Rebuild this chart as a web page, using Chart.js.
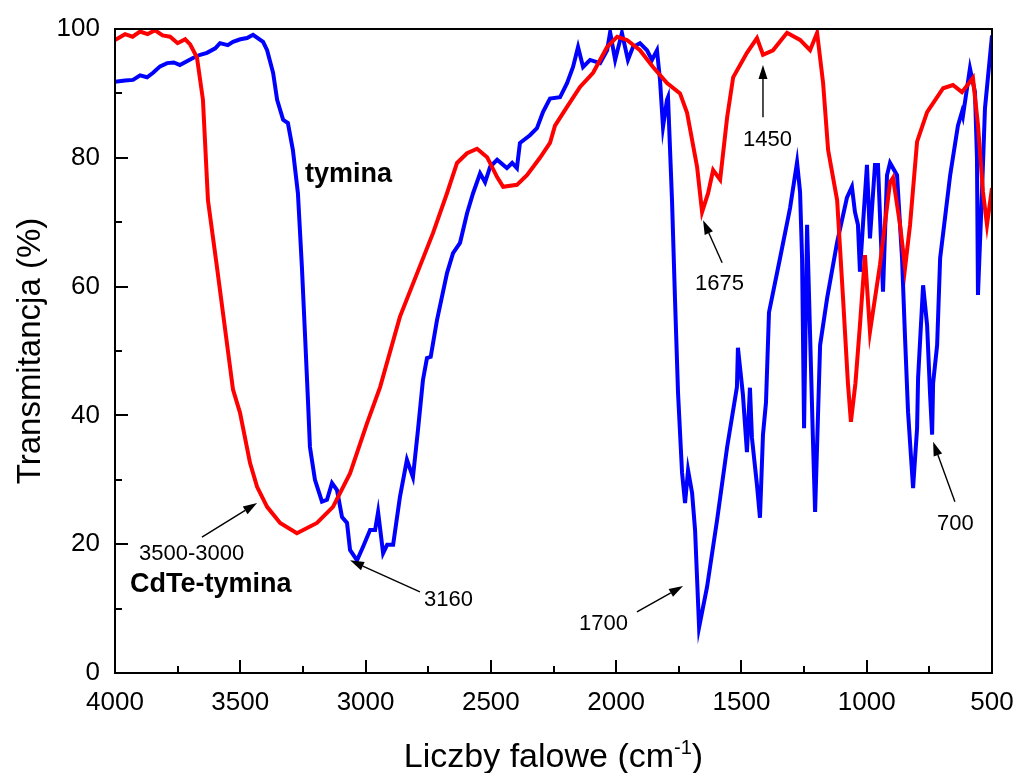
<!DOCTYPE html>
<html>
<head>
<meta charset="utf-8">
<script src="https://cdn.jsdelivr.net/npm/chart.js@4/dist/chart.umd.min.js"></script>
<style>
  body { margin: 0; background: #fff; }
  canvas { display: block; }
</style>
</head>
<body>
<canvas id="ftir" width="1019" height="773"></canvas>
<script>
// Widma FTIR: CdTe-tymina (czerwona) i tymina (niebieska)
const cdteWave = [4000, 3960, 3930, 3900, 3870, 3840, 3810, 3780, 3750, 3720, 3700, 3673, 3649, 3629, 3593, 3529, 3501, 3461, 3433, 3393, 3341, 3274, 3194, 3130, 3062, 2994, 2942, 2863, 2731, 2675, 2635, 2595, 2555, 2515, 2475, 2451, 2396, 2356, 2304, 2264, 2244, 2196, 2144, 2092, 2036, 1996, 1957, 1905, 1853, 1797, 1745, 1717, 1677, 1657, 1633, 1613, 1585, 1557, 1533, 1478, 1438, 1414, 1374, 1318, 1266, 1226, 1198, 1174, 1154, 1118, 1094, 1075, 1063, 1045, 1027, 1007, 987, 947, 907, 895, 867, 847, 827, 799, 759, 695, 656, 620, 576, 556, 536, 520, 500]
const cdteT = [98.3, 99.2, 98.8, 99.6, 99.2, 99.8, 99.0, 98.8, 97.8, 98.4, 97.6, 95.6, 89, 73.4, 63, 44, 40.4, 32.6, 28.9, 25.8, 23.3, 21.7, 23.3, 25.8, 31, 38.8, 44.4, 55.3, 68.3, 74.5, 79.2, 80.7, 81.4, 80.1, 77, 75.5, 75.8, 77.3, 80, 82.3, 85, 87.9, 91, 93.2, 97.2, 98.8, 98.3, 96.7, 94.1, 91.6, 90, 87, 78.6, 71.6, 74.5, 78.1, 76.6, 86.3, 92.5, 96.3, 98.6, 96, 96.7, 99.4, 98.3, 96.7, 99.4, 91.6, 81.2, 73.4, 57.9, 45, 39, 45, 54, 64.9, 53, 63.4, 76.2, 76.9, 69.6, 62.9, 69.6, 82.5, 87.1, 90.8, 91.3, 90.2, 92.4, 85.1, 74.7, 69.6, 75.3]

const thymWave = [4000, 3960, 3928, 3900, 3872, 3848, 3820, 3792, 3765, 3741, 3689, 3660, 3633, 3600, 3581, 3550, 3529, 3500, 3473, 3449, 3409, 3393, 3369, 3353, 3329, 3310, 3290, 3270, 3254, 3242, 3230, 3222, 3202, 3174, 3154, 3134, 3114, 3094, 3074, 3062, 3034, 3010, 2982, 2962, 2950, 2930, 2914, 2890, 2863, 2835, 2811, 2791, 2771, 2755, 2740, 2715, 2675, 2651, 2623, 2595, 2571, 2543, 2523, 2503, 2475, 2436, 2415, 2396, 2384, 2344, 2316, 2292, 2264, 2224, 2196, 2172, 2152, 2132, 2104, 2064, 2036, 2024, 2004, 1977, 1953, 1933, 1905, 1877, 1857, 1837, 1825, 1813, 1797, 1793, 1777, 1765, 1753, 1737, 1725, 1713, 1697, 1685, 1669, 1637, 1597, 1557, 1518, 1514, 1494, 1478, 1466, 1458, 1438, 1426, 1414, 1402, 1390, 1346, 1306, 1278, 1266, 1258, 1250, 1238, 1214, 1206, 1186, 1158, 1118, 1079, 1059, 1047, 1035, 1027, 1015, 999, 987, 967, 955, 935, 919, 907, 879, 859, 847, 835, 815, 799, 795, 775, 759, 747, 739, 735, 719, 707, 667, 636, 620, 616, 588, 568, 560, 556, 540, 528, 500]
const thymT = [91.8, 92.0, 92.1, 92.8, 92.5, 93.2, 94.2, 94.7, 94.8, 94.4, 95.5, 96.0, 96.3, 97.0, 97.8, 97.5, 98.0, 98.4, 98.6, 99.1, 98.0, 96.7, 93.2, 89, 85.9, 85.4, 81.2, 74.5, 63, 52.8, 42.4, 35.1, 30, 26.6, 26.9, 29.5, 28.4, 24.2, 23.3, 19.1, 17.5, 19.6, 22.2, 22.2, 25, 18.6, 19.9, 19.9, 27.3, 33.1, 30.4, 37.7, 45.5, 48.9, 49.1, 54.8, 62.1, 65.2, 66.8, 71.4, 74.5, 77.6, 76.2, 78.6, 79.7, 78.4, 79.2, 78.4, 82.3, 83.5, 84.6, 87.1, 89.2, 89.4, 91.6, 94.1, 97.2, 94.1, 95.2, 94.7, 96.7, 99.5, 95.2, 99.4, 95.2, 97.2, 97.8, 96.7, 95.2, 96.7, 92.1, 84.8, 89, 89.4, 73.4, 57.9, 43.5, 31.1, 26.4, 31.5, 28, 22.2, 7.1, 13.4, 23.8, 35.1, 44.4, 50.5, 43.2, 34.3, 44.3, 36.5, 29.2, 24.1, 37, 42, 56, 64.4, 72.2, 79.3, 74.7, 64.4, 38, 69.6, 35.4, 25, 50.9, 58.2, 66.9, 73.8, 75.5, 71.6, 69.6, 62.3, 69.6, 78.9, 67.5, 78.9, 78.9, 59.2, 77.3, 79.2, 77.3, 64.4, 52, 40.5, 28.7, 38, 45.8, 60.2, 54, 43.2, 37, 45, 50.9, 64.4, 77.3, 85, 87.1, 86.5, 93.9, 90.2, 80, 58.7, 74.7, 87.7, 99]

const xTicks = [4000, 3500, 3000, 2500, 2000, 1500, 1000, 500]
const yTicks = [0, 20, 40, 60, 80, 100]

// opisy pasm: tekst, gdzie stoi (liczba falowa, %T), strzałka od -> do
const noteText = ['tymina', 'CdTe-tymina', '3500-3000', '3160', '1700', '1675', '1450', '700']
const noteAt = [[3242, 76.2], [3940, 12.6], [3904, 17.5], [2767, 10.4], [2148, 6.7], [1685, 59.5], [1494, 81.8], [719, 22.2]]
const noteBold = [true, true, false, false, false, false, false, false]
const arrowFrom = [null, null, [3653, 21.1], [2783, 12.6], [1917, 9.5], [1577, 63.7], [1414, 86.3], [648, 26.6]]
const arrowTo = [null, null, [3433, 26.4], [3062, 17.5], [1733, 13.5], [1653, 70.3], [1414, 94.4], [735, 35.9]]

const FONT = '"Liberation Sans", Arial, sans-serif'

const toPoints = (xs, ys) => xs.map((v, i) => ({ x: v, y: ys[i] }))

function arrow(ctx, x1, y1, x2, y2) {
  const ang = Math.atan2(y2 - y1, x2 - x1)
  const len = 14
  const half = 4.5
  const bx = x2 - len * Math.cos(ang)
  const by = y2 - len * Math.sin(ang)
  ctx.beginPath()
  ctx.moveTo(x1, y1)
  ctx.lineTo(bx, by)
  ctx.stroke()
  ctx.beginPath()
  ctx.moveTo(x2, y2)
  ctx.lineTo(bx + half * Math.sin(ang), by - half * Math.cos(ang))
  ctx.lineTo(bx - half * Math.sin(ang), by + half * Math.cos(ang))
  ctx.closePath()
  ctx.fill()
}

/**
 * Ramka, znaczniki do wewnątrz, opisy pasm i tytuły osi.
 */
const decor = {
  id: 'decor',
  afterDraw(chart) {
    const { ctx, chartArea: a } = chart
    const sx = chart.scales.x
    const sy = chart.scales.y
    ctx.save()
    ctx.strokeStyle = '#000'
    ctx.fillStyle = '#000'
    ctx.lineWidth = 2
    ctx.strokeRect(a.left, a.top, a.right - a.left, a.bottom - a.top)

    ctx.beginPath()
    for (let v = 500; v <= 4000; v += 250) {
      const px = Math.round(sx.getPixelForValue(v))
      const len = v % 500 === 0 ? 13 : 7
      ctx.moveTo(px, a.bottom)
      ctx.lineTo(px, a.bottom - len)
    }
    for (let t = 0; t <= 100; t += 10) {
      const py = Math.round(sy.getPixelForValue(t))
      const len = t % 20 === 0 ? 13 : 7
      ctx.moveTo(a.left, py)
      ctx.lineTo(a.left + len, py)
    }
    ctx.stroke()

    ctx.lineWidth = 1.4
    noteText.forEach((txt, i) => {
      ctx.font = noteBold[i] ? 'bold 27px ' + FONT : '22px ' + FONT
      ctx.textAlign = 'left'
      ctx.textBaseline = 'alphabetic'
      ctx.fillText(txt, sx.getPixelForValue(noteAt[i][0]), sy.getPixelForValue(noteAt[i][1]))
      if (arrowFrom[i]) {
        arrow(ctx,
          sx.getPixelForValue(arrowFrom[i][0]), sy.getPixelForValue(arrowFrom[i][1]),
          sx.getPixelForValue(arrowTo[i][0]), sy.getPixelForValue(arrowTo[i][1]))
      }
    })

    // tytuł osi X z indeksem górnym
    const main = 'Liczby falowe (cm'
    const sup = '-1'
    ctx.font = '34px ' + FONT
    const wMain = ctx.measureText(main).width
    const wClose = ctx.measureText(')').width
    ctx.font = '20px ' + FONT
    const wSup = ctx.measureText(sup).width
    let xx = (a.left + a.right) / 2 - (wMain + wSup + wClose) / 2
    const base = 767
    ctx.font = '34px ' + FONT
    ctx.fillText(main, xx, base)
    xx += wMain
    ctx.font = '20px ' + FONT
    ctx.fillText(sup, xx, base - 13)
    xx += wSup
    ctx.font = '34px ' + FONT
    ctx.fillText(')', xx, base)

    // tytuł osi Y
    ctx.translate(40, (a.top + a.bottom) / 2)
    ctx.rotate(-Math.PI / 2)
    ctx.textAlign = 'center'
    ctx.font = '33px ' + FONT
    ctx.fillText('Transmitancja (%)', 0, 0)
    ctx.restore()
  },
}

new Chart(document.getElementById('ftir'), {
  type: 'line',
  data: {
    datasets: [
      {
        label: 'CdTe-tymina',
        data: toPoints(cdteWave, cdteT),
        borderColor: '#ff0000',
        borderWidth: 4,
        pointRadius: 0,
        tension: 0,
        fill: false,
      },
      {
        label: 'tymina',
        data: toPoints(thymWave, thymT),
        borderColor: '#0000ff',
        borderWidth: 4,
        pointRadius: 0,
        tension: 0,
        fill: false,
      },
    ],
  },
  options: {
    responsive: false,
    animation: false,
    layout: { padding: { top: 29, right: 27, left: 0, bottom: 0 } },
    plugins: { legend: { display: false }, tooltip: { enabled: false } },
    scales: {
      x: {
        type: 'linear',
        reverse: true,
        min: 500,
        max: 4000,
        grid: { display: false, drawTicks: false },
        border: { display: false },
        afterBuildTicks: (s) => { s.ticks = xTicks.map((v) => ({ value: v })) },
        afterFit: (s) => { s.height = 100; s.paddingLeft = 0; s.paddingRight = 0 },
        ticks: { color: '#000', padding: 14, maxRotation: 0, font: { family: FONT, size: 26 }, callback: (v) => String(v) },
      },
      y: {
        min: 0,
        max: 100,
        grid: { display: false, drawTicks: false },
        border: { display: false },
        afterBuildTicks: (s) => { s.ticks = yTicks.map((v) => ({ value: v })) },
        afterFit: (s) => { s.width = 115; s.paddingTop = 0; s.paddingBottom = 0 },
        ticks: { color: '#000', padding: 15, font: { family: FONT, size: 26 }, callback: (v) => String(v) },
      },
    },
  },
  plugins: [decor],
})
</script>
</body>
</html>
